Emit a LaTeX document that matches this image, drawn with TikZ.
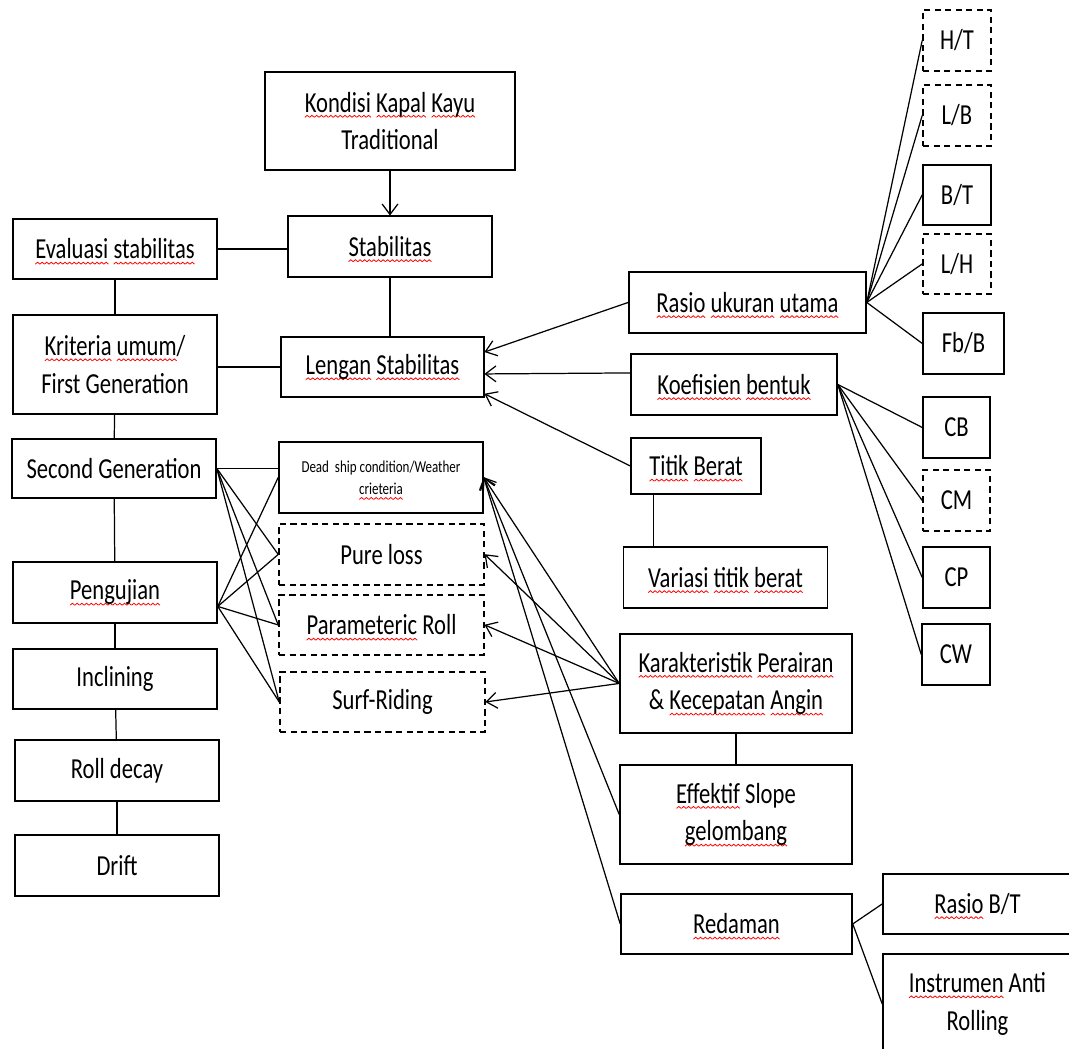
\documentclass[tikz,border=0pt]{standalone}
\usepackage{fontspec}
\setmainfont{Carlito}[FakeStretch=0.78]
\usetikzlibrary{arrows.meta}
\newsavebox{\wavebox}
\newsavebox{\splword}
\newcommand{\makewave}{\sbox\wavebox{\begin{pgfpicture}%
    \pgfpathrectangle{\pgfpoint{0pt}{0pt}}{\pgfpoint{2.6pt}{1.1pt}}%
    \pgfusepath{use as bounding box}%
    \pgfsetlinewidth{0.45pt}\pgfsetstrokecolor{red}%
    \pgfpathmoveto{\pgfpoint{0pt}{0pt}}%
    \pgfpathlineto{\pgfpoint{1.3pt}{1.1pt}}%
    \pgfpathlineto{\pgfpoint{2.6pt}{0pt}}%
    \pgfusepath{stroke}%
    \end{pgfpicture}}}
\newcommand{\spl}[1]{\sbox\splword{#1}\leavevmode\rlap{\raisebox{-3pt}[0pt][0pt]{\hbox to \wd\splword{\xleaders\copy\wavebox\hfil}}}\usebox\splword}
\tikzset{box it/.style={draw, line width=0.9pt, align=center, inner sep=1pt,
    minimum width=4.08cm, minimum height=1.22cm,
    font=\fontsize{16.5}{21.5}\selectfont}}
\tikzset{dbox it/.style={box it, dash pattern=on 3.5pt off 2.5pt}}
\tikzset{point it/.style={-{Straight Barb[length=6pt,width=9pt]}}}

\begin{document}
\begin{tikzpicture}[x=0.02cm, y=-0.02cm, line width=0.7pt]
    \makewave
    \useasboundingbox (0,0) rectangle (1069,1047);
    \clip (0,0) rectangle (1069,1047);
    % left column
    \node[box it, minimum width=5cm, minimum height=1.96cm] (kondisi) at (390,119) {\spl{Kondisi} \spl{Kapal} \spl{Kayu}\\Traditional};
    \node[box it] (stab) at (390,244.5) {\spl{Stabilitas}};
    \node[box it, minimum height=1.2cm] (eval) at (115,247) {\spl{Evaluasi} \spl{stabilitas}};
    \node[box it, minimum height=1.98cm] (krit) at (115,362.5) {\spl{Kriteria} \spl{umum}/\\First Generation};
    \node[box it, minimum width=4.06cm, minimum height=1.2cm] (lengan) at (382.5,365) {\spl{Lengan} \spl{Stabilitas}};
    \node[box it, minimum height=1.18cm] (second) at (114,466.5) {Second Generation};
    \node[box it, minimum height=1.42cm, font=\fontsize{9.5}{12.5}\selectfont] (dead) at (381,475.5) {Dead\ \ ship condition/Weather\\\spl{crieteria}};
    \node[dbox it, minimum width=4.1cm] (pure) at (381.5,552.5) {Pure loss};
    \node[dbox it, minimum width=4.1cm, minimum height=1.2cm] (param) at (381.5,623) {\spl{Parameteric} Roll};
    \node[dbox it, minimum width=4.1cm, minimum height=1.2cm] (surf) at (382.5,700) {Surf-Riding};
    \node[box it] (peng) at (115,590.5) {\spl{Pengujian}};
    \node[box it, minimum height=1.2cm] (incl) at (115,677) {Inclining};
    \node[box it] (roll) at (117,768.5) {Roll decay};
    \node[box it] (drift) at (117,863.5) {Drift};
    % right column
    \node[box it, minimum width=4.74cm] (rasio) at (747.5,300.5) {\spl{Rasio} \spl{ukuran} \spl{utama}};
    \node[box it, minimum width=4.12cm] (koef) at (734,382.5) {\spl{Koefisien} \spl{bentuk}};
    \node[dbox it, minimum width=1.36cm] (ht) at (957,38.5) {H/T};
    \node[dbox it, minimum width=1.36cm] (lb) at (957,113.5) {L/B};
    \node[box it, minimum width=1.36cm, minimum height=1.2cm] (bt) at (957,193) {B/T};
    \node[dbox it, minimum width=1.36cm, minimum height=1.2cm] (lh) at (957,262) {L/H};
    \node[box it, minimum width=1.62cm] (fbb) at (963.5,341.5) {Fb/B};
    \node[box it, minimum width=1.34cm] (cb) at (956.5,425.5) {CB};
    \node[dbox it, minimum width=1.34cm] (cm) at (956.5,498.5) {CM};
    \node[box it, minimum width=1.34cm] (cp) at (956.5,575.5) {CP};
    \node[box it, minimum width=1.36cm] (cw) at (956,652.5) {CW};
    \node[box it, minimum width=2.6cm, minimum height=1.12cm] (titik) at (696,464) {\spl{Titik} \spl{Berat}};
    \node[box it] (variasi) at (725.5,575.5) {\spl{Variasi} \spl{titik} \spl{berat}};
    \node[box it, minimum width=4.64cm, minimum height=1.98cm] (karak) at (736,681.5) {\spl{Karakteristik} \spl{Perairan}\\\& \spl{Kecepatan} \spl{Angin}};
    \node[box it, minimum width=4.64cm, minimum height=1.98cm] (effek) at (736,812.5) {\spl{Effektif} Slope\\\spl{gelombang}};
    \node[box it, minimum width=4.62cm, minimum height=1.2cm] (redaman) at (736.5,922) {\spl{Redaman}};
    \node[box it, minimum width=3.78cm, minimum height=1.2cm] (rbt) at (977.5,902) {\spl{Rasio} B/T};
    \node[box it, minimum width=3.78cm, minimum height=2cm] (instr) at (977.5,1002) {\spl{Instrumen} Anti\\Rolling};
    % links
    \draw[point it] (kondisi) -- (stab);
    \draw (eval.east) -- (eval.east -| stab.west);
    \draw (stab) -- (stab |- lengan.north);
    \draw (eval) -- (krit);
    \draw (krit) -- (second);
    \draw (lengan.west) -- (lengan.west -| krit.east);
    \draw (second.east) -- (second.east -| dead.west);
    \draw (second) -- (peng);
    \draw (peng) -- (incl);
    \draw (incl) -- (roll);
    \draw (roll) -- (drift);
    \draw (second.east) -- (pure.west);
    \draw (second.east) -- (param.west);
    \draw (second.east) -- (surf.west);
    \draw ([yshift=-0.28cm]peng.east) -- (dead.west);
    \draw ([yshift=-0.28cm]peng.east) -- (pure.west);
    \draw ([yshift=-0.28cm]peng.east) -- (param.west);
    \draw ([yshift=-0.28cm]peng.east) -- (surf.west);
    \draw (rasio.east) -- (ht.west);
    \draw (rasio.east) -- (lb.west);
    \draw (rasio.east) -- (bt.west);
    \draw (rasio.east) -- (lh.west);
    \draw (rasio.east) -- (fbb.west);
    \draw (koef.east) -- (cb.west);
    \draw (koef.east) -- (cm.west);
    \draw (koef.east) -- (cp.west);
    \draw (koef.east) -- (cw.west);
    \draw[point it] (rasio.west) -- ([yshift=0.3cm]lengan.east);
    \draw[point it] ([yshift=0.23cm]koef.west) -- ([yshift=-0.14cm]lengan.east);
    \draw[point it] (titik.west) -- ([yshift=-0.54cm]lengan.east);
    \draw ([xshift=-0.85cm]titik.south) -- ([xshift=-0.85cm]titik.south |- variasi.north);
    \draw (karak) -- (effek);
    \draw[point it] (karak.west) -- (dead.east);
    \draw[point it] (karak.west) -- (pure.east);
    \draw[point it] (karak.west) -- (param.east);
    \draw[point it] (karak.west) -- (surf.east);
    \draw[point it] (effek.west) -- (dead.east);
    \draw[point it] (redaman.west) -- (dead.east);
    \draw (redaman.east) -- (rbt.west);
    \draw (redaman.east) -- (instr.west);
\end{tikzpicture}
\end{document}
